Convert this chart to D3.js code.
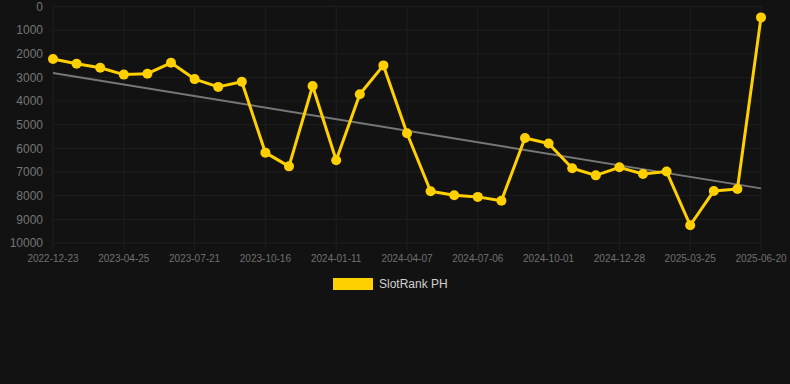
<!DOCTYPE html>
<html>
<head>
<meta charset="utf-8">
<script src="https://cdn.jsdelivr.net/npm/d3@7"></script>
<style>
  html, body { margin: 0; padding: 0; background: #121212; }
  svg { display: block; font-family: "Liberation Sans", Arial, sans-serif; }
</style>
</head>
<body>
<svg id="chart" width="790" height="384"></svg>
<script>
// rank per snapshot (lower = better, axis reversed)
var ranks = [2220, 2420, 2590, 2880, 2840, 2380, 3070, 3400, 3180, 6180, 6760,
             3360, 6500, 3710, 2490, 5360, 7810, 7980, 8050, 8210, 5560,
             5790, 6840, 7140, 6800, 7080, 6980, 9250, 7800, 7720, 460];
var tickLabels = ["2022-12-23", "2023-04-25", "2023-07-21", "2023-10-16", "2024-01-11",
                  "2024-04-07", "2024-07-06", "2024-10-01", "2024-12-28", "2025-03-25", "2025-06-20"];
var yTicks = [0, 1000, 2000, 3000, 4000, 5000, 6000, 7000, 8000, 9000, 10000];
var seriesName = "SlotRank PH";

var margin = {top: 6.5, right: 29, bottom: 141, left: 53},
    width = 790 - margin.left - margin.right,
    height = 384 - margin.top - margin.bottom;

var svg = d3.select("#chart");
var g = svg.append("g")
    .attr("transform", "translate(" + margin.left + "," + margin.top + ")");

var idx = d3.range(ranks.length);
var x = d3.scaleLinear().domain([0, ranks.length - 1]).range([0, width]);
var y = d3.scaleLinear().domain([0, 10000]).range([0, height]);

// grid
g.selectAll(".hgrid").data(yTicks).enter().append("line")
    .attr("x1", 0).attr("x2", width)
    .attr("y1", function(d) { return y(d); }).attr("y2", function(d) { return y(d); })
    .attr("stroke", "#1f1f1f").attr("stroke-width", 1);

var tickIdx = tickLabels.map(function(d, i) { return i * 3; });
g.selectAll(".vgrid").data(tickIdx).enter().append("line")
    .attr("x1", function(d) { return x(d); }).attr("x2", function(d) { return x(d); })
    .attr("y1", 0).attr("y2", height + 7)
    .attr("stroke", "#1f1f1f").attr("stroke-width", 1);

// y axis labels
g.selectAll(".ylab").data(yTicks).enter().append("text")
    .attr("x", -10).attr("y", function(d) { return y(d); })
    .attr("dy", "0.35em")
    .attr("text-anchor", "end")
    .attr("fill", "#757575")
    .attr("font-size", "12px")
    .text(function(d) { return d; });

// x axis labels
g.selectAll(".xlab").data(tickLabels).enter().append("text")
    .attr("x", function(d, i) { return x(tickIdx[i]); })
    .attr("y", height + 19)
    .attr("text-anchor", "middle")
    .attr("fill", "#707070")
    .attr("font-size", "10px")
    .text(function(d) { return d; });

// linear trend (least squares)
var mx = d3.mean(idx), my = d3.mean(ranks);
var slope = d3.sum(idx, function(i) { return (i - mx) * (ranks[i] - my); }) /
            d3.sum(idx, function(i) { return (i - mx) * (i - mx); });
var icpt = my - slope * mx;
var last = ranks.length - 1;
g.append("line")
    .attr("x1", x(0)).attr("y1", y(icpt))
    .attr("x2", x(last)).attr("y2", y(icpt + slope * last))
    .attr("stroke", "#777").attr("stroke-width", 2);

// series
var line = d3.line()
    .x(function(d, i) { return x(i); })
    .y(function(d) { return y(d); });

g.append("path")
    .datum(ranks)
    .attr("d", line)
    .attr("fill", "none")
    .attr("stroke", "#ffd000")
    .attr("stroke-width", 3)
    .attr("stroke-linejoin", "round");

g.selectAll(".dot").data(ranks).enter().append("circle")
    .attr("cx", function(d, i) { return x(i); })
    .attr("cy", function(d) { return y(d); })
    .attr("r", 5)
    .attr("fill", "#ffd000");

// legend
var legend = svg.append("g").attr("transform", "translate(333,278)");
legend.append("rect")
    .attr("width", 40).attr("height", 12)
    .attr("fill", "#ffd000");
legend.append("text")
    .attr("x", 46).attr("y", 6)
    .attr("dy", "0.35em")
    .attr("fill", "#d0d0d0")
    .attr("font-size", "12px")
    .text(seriesName);
</script>
</body>
</html>
